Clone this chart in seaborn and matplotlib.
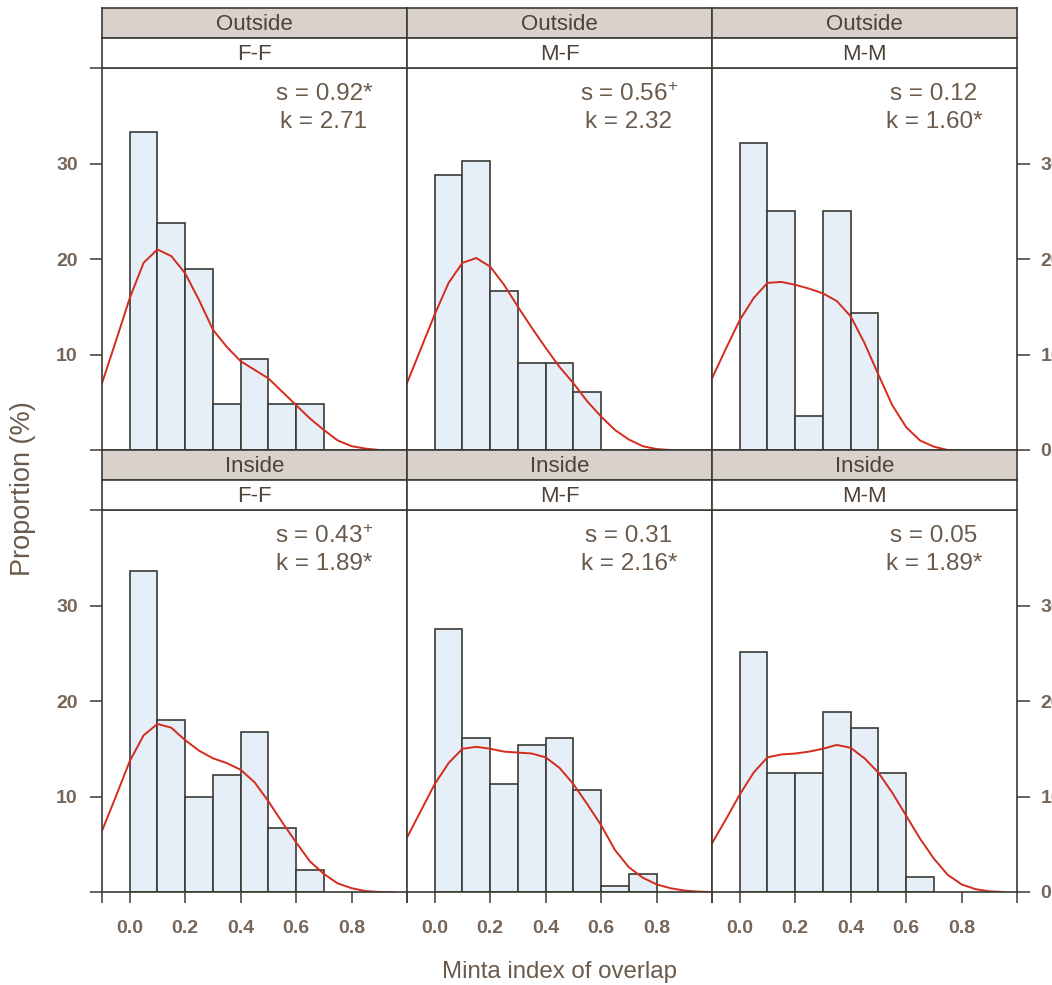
import numpy as np
import pandas as pd
import matplotlib
matplotlib.use("Agg")
import matplotlib.pyplot as plt
import seaborn as sns

sns.set_theme(style="white")
plt.rcParams['font.family'] = ['Liberation Sans', 'DejaVu Sans']
plt.rcParams['mathtext.fontset'] = 'custom'
plt.rcParams['mathtext.rm'] = 'Liberation Sans'
plt.rcParams['mathtext.it'] = 'Liberation Sans:italic'
plt.rcParams['mathtext.bf'] = 'Liberation Sans:bold'

# ---------------- data ----------------
locations = ["Outside", "Inside"]
pairs = ["F-F", "M-F", "M-M"]

# histogram bar heights (%), bins of width 0.1 starting at 0.0
outside_ff = [33.3, 23.8, 19.0, 4.8, 9.5, 4.8, 4.8]
outside_mf = [28.8, 30.3, 16.7, 9.1, 9.1, 6.1]
outside_mm = [32.1, 25.0, 3.6, 25.0, 14.3]
inside_ff = [33.6, 18.0, 10.0, 12.3, 16.8, 6.7, 2.3]
inside_mf = [27.5, 16.1, 11.3, 15.4, 16.1, 10.7, 0.6, 1.9]
inside_mm = [25.1, 12.5, 12.5, 18.8, 17.2, 12.5, 1.6]

# density curve (scaled to %), read at these x positions
kde_grid = [-0.1, -0.05, 0.0, 0.05, 0.1, 0.15, 0.2, 0.25, 0.3, 0.35, 0.4, 0.45,
            0.5, 0.55, 0.6, 0.65, 0.7, 0.75, 0.8, 0.85, 0.9, 0.95, 1.0]
kde_outside_ff = [7.0, 11.4, 15.9, 19.6, 21.0, 20.3, 18.5, 15.7, 12.6, 10.8, 9.3, 8.4,
                  7.5, 6.1, 4.7, 3.3, 2.1, 1.0, 0.4, 0.15, 0.0]
kde_outside_mf = [7.0, 10.6, 14.2, 17.5, 19.6, 20.1, 19.2, 17.3, 15.0, 12.8, 10.7, 8.7,
                  7.0, 5.1, 3.5, 2.1, 1.1, 0.4, 0.1, 0.0]
kde_outside_mm = [7.5, 10.6, 13.6, 15.9, 17.5, 17.6, 17.3, 16.9, 16.4, 15.6, 14.0, 11.2,
                  7.9, 4.7, 2.4, 1.0, 0.35, 0.0]
kde_inside_ff = [6.4, 10.0, 13.7, 16.4, 17.6, 17.2, 15.9, 14.8, 14.0, 13.5, 12.8, 11.5,
                 9.5, 7.3, 5.2, 3.2, 1.9, 0.9, 0.4, 0.1, 0.0, 0.0]
kde_inside_mf = [5.7, 8.5, 11.3, 13.5, 15.0, 15.2, 15.0, 14.7, 14.6, 14.5, 14.1, 13.0,
                 11.3, 9.2, 7.0, 4.4, 2.6, 1.5, 0.8, 0.4, 0.15, 0.04, 0.0]
kde_inside_mm = [5.1, 7.6, 10.2, 12.5, 14.1, 14.4, 14.5, 14.7, 15.0, 15.4, 15.1, 14.0,
                 12.5, 10.4, 8.0, 5.6, 3.5, 1.8, 0.8, 0.3, 0.07, 0.0]

s_labels = ["s = 0.92*", "s = 0.56$^{+}$", "s = 0.12",
            "s = 0.43$^{+}$", "s = 0.31", "s = 0.05"]
k_labels = ["k = 2.71", "k = 2.32", "k = 1.60*",
            "k = 1.89*", "k = 2.16*", "k = 1.89*"]

x_tick_vals = [-0.1, 0.0, 0.2, 0.4, 0.6, 0.8, 1.0]
x_tick_labels = ["", "0.0", "0.2", "0.4", "0.6", "0.8", ""]
yl_tick_vals = [0, 10, 20, 30, 40]
yl_tick_labels = ["", "10", "20", "30", ""]
yr_tick_vals = [0, 10, 20, 30]
yr_tick_labels = ["0", "10", "20", "30"]

hist_values = [outside_ff, outside_mf, outside_mm, inside_ff, inside_mf, inside_mm]
kde_values = [kde_outside_ff, kde_outside_mf, kde_outside_mm,
              kde_inside_ff, kde_inside_mf, kde_inside_mm]

# ---------------- style ----------------
AXIS_COL = "#3b3a33"
BAR_FILL = "#e6eef8"
BAR_EDGE = "#3a3a36"
RED = "#d42b1c"
STRIP_FILL = "#d9d1cb"
STRIP_TXT = "#4e4237"
ANNO_TXT = "#6a5a4c"
TICK_TXT = "#76665a"

W, H = 1052, 985
fig = plt.figure(figsize=(W / 100, H / 100), dpi=100)


def rect(left, top, right, bottom):
    return [left / W, 1 - bottom / H, (right - left) / W, (bottom - top) / H]


col_left = [102, 407, 712]
col_w = 305
row_strip1_top = [8, 450]
row_strip_mid = [38, 480]
row_panel_top = [68, 510]
row_panel_bot = [450, 892]


def style_spines(ax):
    for sp in ax.spines.values():
        sp.set_visible(True)
        sp.set_color(AXIS_COL)
        sp.set_linewidth(1.2)


for r in range(2):
    for c in range(3):
        idx = r * 3 + c
        L = col_left[c]
        R = L + col_w
        ax = fig.add_axes(rect(L, row_panel_top[r], R, row_panel_bot[r]))
        vals = hist_values[idx]
        n = len(vals)
        df = pd.DataFrame({"x": [0.05 + 0.1 * i for i in range(n)], "w": vals})
        sns.histplot(data=df, x="x", weights="w", bins=n,
                     binrange=(0.0, round(0.1 * n, 2)), stat="count",
                     color=BAR_FILL, edgecolor=BAR_EDGE, linewidth=1.2, alpha=1,
                     ax=ax)
        ky = kde_values[idx]
        sns.lineplot(x=kde_grid[:len(ky)], y=ky, color=RED, linewidth=1.4, ax=ax)
        ax.set_xlim(-0.1, 1.0)
        ax.set_ylim(0, 40)
        ax.set_xlabel("")
        ax.set_ylabel("")
        ax.set_facecolor("white")
        style_spines(ax)

        ax.text(0.70, 37.25, s_labels[idx], ha="center", va="center",
                fontsize=17.5, color=ANNO_TXT)
        ax.text(0.70, 34.3, k_labels[idx], ha="center", va="center",
                fontsize=17.5, color=ANNO_TXT)

        # x ticks
        if r == 1:
            ax.set_xticks(x_tick_vals)
            ax.set_xticklabels(x_tick_labels, fontweight="bold")
            ax.tick_params(axis="x", bottom=True, labelbottom=True, direction="out",
                           length=8, width=1.1, color=AXIS_COL, labelsize=14,
                           labelcolor=TICK_TXT, pad=12)
        else:
            ax.set_xticks([])
        # y ticks
        if c == 0:
            ax.set_yticks(yl_tick_vals)
            ax.set_yticklabels(yl_tick_labels, fontweight="bold")
            ax.tick_params(axis="y", left=True, right=False, labelleft=True,
                           labelright=False, direction="out", length=8.5, width=1.1,
                           color=AXIS_COL, labelsize=14, labelcolor=TICK_TXT, pad=9)
        elif c == 2:
            ax.set_yticks(yr_tick_vals)
            ax.set_yticklabels(yr_tick_labels, fontweight="bold")
            ax.tick_params(axis="y", left=False, right=True, labelleft=False,
                           labelright=True, direction="out", length=9, width=1.1,
                           color=AXIS_COL, labelsize=14, labelcolor=TICK_TXT, pad=8)
        else:
            ax.set_yticks([])

        # strips
        s1 = fig.add_axes(rect(L, row_strip1_top[r], R, row_strip_mid[r]))
        s1.set_facecolor(STRIP_FILL)
        s1.set_xticks([]); s1.set_yticks([])
        style_spines(s1)
        s1.text(0.5, 0.45, locations[r], ha="center", va="center", fontsize=16,
                color=STRIP_TXT, transform=s1.transAxes)
        s2 = fig.add_axes(rect(L, row_strip_mid[r], R, row_panel_top[r]))
        s2.set_facecolor("white")
        s2.set_xticks([]); s2.set_yticks([])
        style_spines(s2)
        s2.text(0.5, 0.45, pairs[c], ha="center", va="center", fontsize=16,
                color=STRIP_TXT, transform=s2.transAxes)

fig.text(23 / W, 1 - 489 / H, "Proportion (%)", rotation=90, ha="center",
         va="center", fontsize=19.5, color=ANNO_TXT)
fig.text(559 / W, 1 - 978 / H, "Minta index of overlap", ha="center",
         va="baseline", fontsize=17.3, color=ANNO_TXT)

fig.savefig("out.png", dpi=100, facecolor="white")
